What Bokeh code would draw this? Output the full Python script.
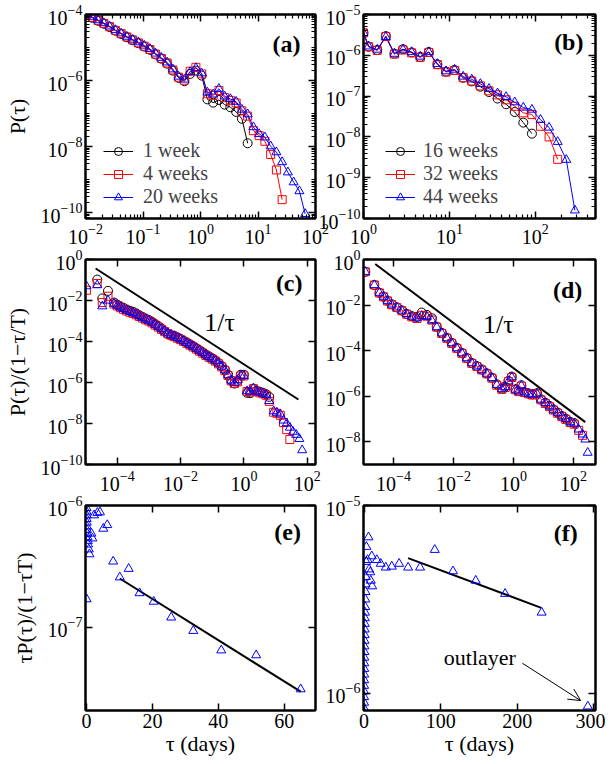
import numpy as np
from bokeh.plotting import figure
from bokeh.models import (Range1d, FixedTicker, LogAxis, LinearAxis, Label, Legend,
                          LegendItem, Arrow, OpenHead, GridBox, CustomJSTickFormatter)
from bokeh.embed import file_html
from bokeh.resources import INLINE

SERIF = "Liberation Serif"
BLUE = "#0000ff"
RED = "#ff0000"
BLACK = "#000000"

# ---------------- data (log10 values) ----------------
# panel (a): P(tau), tau in days
a_log_tau = [-1.98, -1.88, -1.78, -1.68, -1.58, -1.48, -1.38, -1.28, -1.18, -1.08,
             -0.98, -0.88, -0.78, -0.68, -0.58, -0.48, -0.38, -0.28, -0.18, -0.08,
             0.02, 0.12, 0.22, 0.32, 0.42, 0.52, 0.62, 0.72, 0.82, 0.92,
             1.02, 1.12, 1.22, 1.32, 1.42, 1.52, 1.62, 1.72, 1.82]
a_log_p_1w = [-4.00, -4.10, -4.19, -4.28, -4.38, -4.49, -4.59, -4.69, -4.78, -4.87,
              -4.97, -5.07, -5.21, -5.34, -5.49, -5.70, -5.92, -6.02, -5.80, -5.70,
              -5.85, -6.57, -6.67, -6.59, -6.73, -6.81, -6.95, -7.16, -7.90]
a_log_p_4w = [-4.00, -4.09, -4.18, -4.27, -4.37, -4.48, -4.58, -4.68, -4.77, -4.86,
              -4.96, -5.06, -5.20, -5.33, -5.47, -5.68, -5.90, -5.99, -5.72, -5.60,
              -5.80, -6.40, -6.45, -6.30, -6.52, -6.60, -6.68, -6.92, -7.08, -7.52,
              -7.67, -7.84, -8.24, -8.71, -9.61]
a_log_p_20w = [-4.00, -4.08, -4.17, -4.26, -4.36, -4.47, -4.57, -4.67, -4.76, -4.84,
               -4.94, -5.04, -5.18, -5.31, -5.45, -5.66, -5.88, -5.97, -5.74, -5.62,
               -5.78, -6.36, -6.42, -6.25, -6.48, -6.56, -6.64, -6.88, -7.02, -7.41,
               -7.62, -7.72, -7.99, -8.17, -8.47, -8.78, -9.08, -9.35, -10.04]
a_labels = ["1 week", "4 weeks", "20 weeks"]

# panel (b)
b_log_tau = [0.00, 0.06, 0.16, 0.26, 0.36, 0.46, 0.56, 0.66, 0.76, 0.86,
             0.96, 1.06, 1.16, 1.26, 1.36, 1.46, 1.56, 1.66, 1.76, 1.86,
             1.96, 2.06, 2.16, 2.26, 2.36, 2.46]
b_log_p_16w = [-5.45, -5.79, -5.87, -5.53, -5.96, -5.85, -5.93, -6.04, -5.92, -6.22,
               -6.40, -6.36, -6.55, -6.64, -6.77, -6.90, -7.06, -7.20, -7.39, -7.65,
               -7.92]
b_log_p_32w = [-5.45, -5.79, -5.88, -5.54, -5.97, -5.87, -5.94, -6.05, -5.93, -6.23,
               -6.41, -6.37, -6.55, -6.63, -6.75, -6.87, -6.97, -7.09, -7.25, -7.41,
               -7.45, -7.74, -8.00, -8.55]
b_log_p_44w = [-5.45, -5.78, -5.86, -5.55, -5.96, -5.86, -5.92, -6.03, -5.92, -6.21,
               -6.39, -6.35, -6.52, -6.59, -6.70, -6.82, -6.93, -7.02, -7.15, -7.28,
               -7.33, -7.58, -7.77, -8.12, -8.56, -9.80]
b_labels = ["16 weeks", "32 weeks", "44 weeks"]

# panel (c): P(tau)/(1-tau/T)
c_log_tau = [-4.97, -4.63, -4.47, -4.29,
             -4.10, -4.00, -3.90, -3.80, -3.70, -3.60, -3.50, -3.40, -3.30, -3.20,
             -3.10, -3.00, -2.90, -2.80, -2.70, -2.60, -2.50, -2.40, -2.30, -2.20,
             -2.10, -2.00, -1.90, -1.80, -1.70, -1.60, -1.50, -1.40, -1.30, -1.20,
             -1.10, -1.00, -0.90, -0.80, -0.70, -0.60, -0.50, -0.40, -0.30, -0.20,
             -0.10, 0.00, 0.10, 0.20, 0.30, 0.40, 0.50, 0.60, 0.70, 0.80,
             0.94, 1.04, 1.15, 1.25, 1.35, 1.45, 1.55, 1.65, 1.75, 1.84]
c_log_y_1w = [-0.98, -1.90, -1.53,
              -2.10, -2.20, -2.28, -2.36, -2.44, -2.50, -2.55, -2.63, -2.72, -2.80,
              -2.88, -2.95, -3.04, -3.15, -3.25, -3.37, -3.50, -3.64, -3.70, -3.72,
              -3.80, -3.87, -3.96, -4.05, -4.14, -4.23, -4.33, -4.43, -4.53, -4.64,
              -4.73, -4.82, -4.92, -5.05, -5.20, -5.38, -5.62, -5.90, -6.05, -5.92,
              -5.62, -5.62, -6.50, -6.52, -6.32, -6.40, -6.45, -6.50, -6.57, -6.70]
c_log_y_4w = [-1.50, -1.17, -2.10, -1.79,
              -2.17, -2.27, -2.35, -2.43, -2.51, -2.57, -2.63, -2.70, -2.78, -2.86,
              -2.94, -3.00, -3.09, -3.20, -3.30, -3.41, -3.52, -3.62, -3.69, -3.76,
              -3.84, -3.91, -4.00, -4.09, -4.18, -4.27, -4.37, -4.47, -4.57, -4.68,
              -4.77, -4.86, -4.96, -5.09, -5.24, -5.42, -5.66, -5.92, -6.05, -5.97,
              -5.68, -5.68, -6.44, -6.47, -6.30, -6.44, -6.50, -6.55, -6.62, -6.92,
              -7.45, -7.50, -7.60, -7.95, -8.30, -8.78]
c_log_y_20w = [-1.30, -1.25, -2.28, -2.00,
               -2.15, -2.25, -2.33, -2.41, -2.49, -2.55, -2.61, -2.68, -2.76, -2.84,
               -2.92, -2.98, -3.07, -3.18, -3.28, -3.39, -3.50, -3.60, -3.67, -3.74,
               -3.82, -3.89, -3.98, -4.07, -4.16, -4.25, -4.35, -4.45, -4.55, -4.66,
               -4.75, -4.84, -4.94, -5.07, -5.22, -5.40, -5.64, -5.90, -6.03, -5.88,
               -5.66, -5.68, -6.42, -6.45, -6.28, -6.42, -6.48, -6.53, -6.60, -6.90,
               -7.40, -7.47, -7.55, -7.85, -8.00, -8.20, -8.40, -8.55, -8.75, -9.30]
c_fit_log_tau = [-4.68, 1.72]
c_fit_log_y = [-0.44, -6.83]

# panel (d)
d_log_tau = [-4.94, -4.64, -4.47, -4.33, -4.20, -4.06, -3.89, -3.72, -3.56, -3.39,
             -3.22, -3.06, -2.89, -2.72, -2.56, -2.39, -2.22, -2.06, -1.89, -1.72,
             -1.56, -1.39, -1.22, -1.06, -0.89, -0.72, -0.56, -0.39, -0.28, -0.17,
             -0.06, 0.06, 0.17, 0.26, 0.36, 0.50, 0.63, 0.78, 0.91, 1.06,
             1.20, 1.33, 1.47, 1.61, 1.74, 1.89, 2.02, 2.17, 2.30, 2.39, 2.47]
d_log_y_16w = [-0.54, -1.12, -1.46, -1.63, -1.81, -1.97, -2.10, -2.24, -2.39, -2.49,
               -2.52, -2.33, -2.43, -2.58, -2.95, -3.22, -3.44, -3.66, -3.88, -4.10,
               -4.32, -4.54, -4.68, -4.83, -5.00, -5.19, -5.48, -5.67, -5.58, -5.33,
               -5.14, -5.70, -5.78, -5.52, -5.82, -5.88, -5.92, -5.87, -6.14, -6.29,
               -6.43, -6.58, -6.72, -6.87, -6.99, -7.13, -7.18]
d_log_y_32w = [-0.54, -1.12, -1.47, -1.64, -1.82, -1.98, -2.11, -2.25, -2.40, -2.52,
               -2.59, -2.45, -2.49, -2.66, -2.97, -3.25, -3.46, -3.68, -3.90, -4.12,
               -4.34, -4.56, -4.70, -4.85, -5.02, -5.21, -5.52, -5.70, -5.62, -5.36,
               -5.18, -5.72, -5.80, -5.56, -5.84, -5.90, -5.95, -5.91, -6.16, -6.32,
               -6.46, -6.61, -6.75, -6.90, -7.02, -7.16, -7.23, -7.50, -7.72]
d_log_y_44w = [-0.54, -1.12, -1.46, -1.63, -1.81, -1.97, -2.10, -2.24, -2.39, -2.51,
               -2.58, -2.48, -2.51, -2.68, -2.97, -3.24, -3.45, -3.67, -3.89, -4.11,
               -4.33, -4.55, -4.69, -4.84, -5.01, -5.20, -5.50, -5.69, -5.60, -5.35,
               -5.17, -5.71, -5.79, -5.54, -5.83, -5.89, -5.93, -5.89, -6.15, -6.30,
               -6.44, -6.59, -6.73, -6.88, -7.00, -7.14, -7.20, -7.46, -7.68, -7.90,
               -8.48]
d_fit_log_tau = [-4.61, 2.39]
d_fit_log_y = [-0.20, -7.14]

# panel (e): tau P(tau)/(1 - tau T), linear tau in days
e_tau = [0.01, 0.02, 0.04, 0.06, 0.08, 0.1, 0.15, 0.2, 0.3, 0.4, 0.5, 0.7, 0.9,
         0.05, 1.5, 1.8, 2.3, 3.3, 4.1, 5.1, 6.3, 8.1, 10.1, 12.8, 16.1, 20.4,
         25.7, 32.4, 40.9, 51.5, 65.0]
e_log_y = [-6.02, -6.05, -6.08, -6.11, -6.14, -6.17, -6.20, -6.23, -6.26, -6.29,
           -6.32, -6.36, -6.40, -6.77, -6.23, -6.27, -6.08, -6.06, -6.055, -6.19,
           -6.16, -6.46, -6.59, -6.52, -6.72, -6.79, -6.92, -7.03, -7.19, -7.23, -7.51]
e_fit_tau = [10.1, 65.0]
e_fit_log_y = [-6.60, -7.53]

# panel (f)
f_tau = [0.01, 0.02, 0.03, 0.05, 0.07, 0.1, 0.14, 0.2, 0.25, 0.3, 0.4, 0.5, 0.6,
         0.7, 0.8, 0.9, 1.0, 1.2, 1.4, 1.6, 1.8, 2.0, 2.3, 2.6, 3.0,
         5.7, 4.5, 6.5, 8.7, 10.0, 8.0, 10.5, 16.5, 21.7, 28.3,
         36.1, 45.7, 57.4, 73.0, 92.2, 116.0, 145.7, 184.0, 231.7, 292.0]
f_log_y = [-6.08, -6.05, -6.02, -5.99, -5.96, -5.93, -5.90, -5.87, -5.84, -5.81,
           -5.78, -5.75, -5.72, -5.69, -5.66, -5.63, -5.60, -5.57, -5.54, -5.50,
           -5.46, -5.42, -5.38, -5.30, -5.22,
           -5.169, -5.29, -5.34, -5.40, -5.27, -5.355, -5.43, -5.29, -5.31, -5.33,
           -5.325, -5.31, -5.33, -5.33, -5.236, -5.35, -5.40, -5.47, -5.57, -6.07]
f_fit_tau = [57.4, 231.3]
f_fit_log_y = [-5.28, -5.545]


def pw(exps):
    return [10.0 ** v for v in exps]


def log_minor(kmin, kmax, majors):
    out = []
    for k in range(kmin, kmax + 1):
        for m in range(1, 10):
            v = m * 10.0 ** k
            if not any(abs(v - t) <= 1e-9 * t for t in majors):
                out.append(v)
    return out


def make_panel(w, h, borders, xr, yr, xlog, ylog, xt, yt, xminor=None, yminor=None,
               xlabel=None, ylabel=None, xstand=12):
    left, right, top, bottom = borders
    p = figure(width=w, height=h,
               x_axis_type="log" if xlog else "linear",
               y_axis_type="log" if ylog else "linear",
               x_range=Range1d(*xr), y_range=Range1d(*yr),
               output_backend="svg", toolbar_location=None,
               min_border_left=left, min_border_right=right,
               min_border_top=top, min_border_bottom=bottom)
    p.xgrid.visible = False
    p.ygrid.visible = False
    p.background_fill_color = None
    p.border_fill_color = None
    p.outline_line_color = "black"
    p.outline_line_width = 2
    XA = LogAxis if xlog else LinearAxis
    YA = LogAxis if ylog else LinearAxis
    p.add_layout(XA(), "above")
    p.add_layout(YA(), "right")
    xtick = FixedTicker(ticks=xt, minor_ticks=xminor or [])
    ytick = FixedTicker(ticks=yt, minor_ticks=yminor or [])
    for ax in p.xaxis:
        ax.ticker = xtick
    for ax in p.yaxis:
        ax.ticker = ytick
    for ax in p.axis:
        ax.axis_line_width = 2
        ax.major_tick_in = 7
        ax.major_tick_out = 0
        ax.minor_tick_in = 4
        ax.minor_tick_out = 0
        ax.major_tick_line_width = 1.5
        ax.minor_tick_line_width = 1.2
        ax.major_label_text_font = SERIF
        ax.major_label_text_font_size = "20px"
        ax.major_label_text_color = "black"
        ax.axis_label_text_font = SERIF
        ax.axis_label_text_font_size = "22px"
        ax.axis_label_text_font_style = "normal"
        ax.axis_label_text_color = "black"
    for ax in list(p.above) + list(p.right):
        ax.formatter = CustomJSTickFormatter(code="return ''")
        ax.major_label_text_color = None
        ax.major_label_standoff = 0
    p.below[0].major_label_standoff = xstand
    p.left[0].major_label_standoff = 3
    if xlabel:
        p.below[0].axis_label = xlabel
        p.below[0].axis_label_standoff = 0
    if ylabel:
        p.left[0].axis_label = ylabel
        p.left[0].axis_label_standoff = 8
    return p


def tag(p, text, x, y, size="24px", bold=True, align="right"):
    p.add_layout(Label(x=x, y=y, text=text, text_font=SERIF, text_font_size=size,
                       text_font_style="bold" if bold else "normal",
                       text_align=align, text_baseline="middle", text_color="black"))


def add_legend(p, items, loc, standoff):
    lg = Legend(items=items, location=loc, border_line_color=None,
                background_fill_alpha=0, padding=0, margin=0, spacing=0,
                glyph_width=30, glyph_height=20, label_height=20,
                label_standoff=standoff, label_text_font=SERIF,
                label_text_font_size="20px")
    p.add_layout(lg)


# ---------------- panel (a) ----------------
ax_major = [1e-2, 1e-1, 1e0, 1e1, 1e2]
ay_major = [1e-10, 1e-8, 1e-6, 1e-4]
pa = make_panel(340, 256, (85, 25, 14, 38), (1e-2, 1e2), (10 ** -10.18, 1e-4),
                True, True, ax_major, ay_major,
                log_minor(-2, 1, ax_major), log_minor(-11, -5, ay_major),
                ylabel="P(τ)", xstand=5)
series_a = [(a_log_p_1w, BLACK, "circle", 9), (a_log_p_4w, RED, "square", 8),
            (a_log_p_20w, BLUE, "triangle", 9)]
items = []
for (ys, col, mk, sz), lab in zip(series_a, a_labels):
    xs = pw(a_log_tau[:len(ys)])
    l = pa.line(xs, pw(ys), line_color=col, line_width=1)
    s = pa.scatter(xs, pw(ys), marker=mk, size=sz, fill_color=None,
                   line_color=col, line_width=1)
    items.append(LegendItem(label=lab, renderers=[l, s]))
add_legend(pa, items, (18, 10), 10)
tag(pa, "(a)", 55, 1.318e-5)

# ---------------- panel (b) ----------------
bx_major = [1e0, 1e1, 1e2]
by_major = [1e-10, 1e-9, 1e-8, 1e-7, 1e-6, 1e-5]
pb = make_panel(295, 256, (53, 10, 14, 38), (1, 10 ** 2.70), (1e-10, 1e-5),
                True, True, bx_major, by_major,
                log_minor(0, 2, bx_major), log_minor(-10, -6, by_major), xstand=5)
series_b = [(b_log_p_16w, BLACK, "circle", 9), (b_log_p_32w, RED, "square", 8),
            (b_log_p_44w, BLUE, "triangle", 9)]
items = []
for (ys, col, mk, sz), lab in zip(series_b, b_labels):
    xs = pw(b_log_tau[:len(ys)])
    l = pb.line(xs, pw(ys), line_color=col, line_width=1)
    s = pb.scatter(xs, pw(ys), marker=mk, size=sz, fill_color=None,
                   line_color=col, line_width=1)
    items.append(LegendItem(label=lab, renderers=[l, s]))
add_legend(pb, items, (22, 10), 8)
tag(pb, "(b)", 363, 2.07e-6)

# ---------------- panel (c) ----------------
cx_major = [1e-4, 1e-2, 1e0, 1e2]
cy_major = [1e-10, 1e-8, 1e-6, 1e-4, 1e-2, 1e0]
pc = make_panel(340, 260, (85, 25, 15, 40), (1e-5, 10 ** 2.26), (1e-10, 1),
                True, True, cx_major, cy_major, ylabel="P(τ)/(1−τ/T)", xstand=6)
pc.line(pw(c_fit_log_tau), pw(c_fit_log_y), line_color="black", line_width=2)
pc.scatter(pw(c_log_tau[1:1 + len(c_log_y_1w)]), pw(c_log_y_1w), marker="circle",
           size=9, fill_color=None, line_color=BLACK, line_width=1)
pc.scatter(pw(c_log_tau[:len(c_log_y_4w)]), pw(c_log_y_4w), marker="square",
           size=8, fill_color=None, line_color=RED, line_width=1)
pc.scatter(pw(c_log_tau[:len(c_log_y_20w)]), pw(c_log_y_20w), marker="triangle",
           size=9, fill_color=None, line_color=BLUE, line_width=1)
tag(pc, "(c)", 70.8, 0.069)
tag(pc, "1/τ", 0.17, 8.7e-4, size="26px", bold=False, align="center")

# ---------------- panel (d) ----------------
dx_major = [1e-4, 1e-2, 1e0, 1e2]
dy_major = [1e-8, 1e-6, 1e-4, 1e-2, 1e0]
pd_ = make_panel(295, 260, (53, 10, 15, 40), (1e-5, 10 ** 2.73), (1e-9, 1),
                 True, True, dx_major, dy_major, xstand=6)
pd_.line(pw(d_fit_log_tau), pw(d_fit_log_y), line_color="black", line_width=2)
pd_.scatter(pw(d_log_tau[:len(d_log_y_16w)]), pw(d_log_y_16w), marker="circle",
            size=9, fill_color=None, line_color=BLACK, line_width=1)
pd_.scatter(pw(d_log_tau[:len(d_log_y_32w)]), pw(d_log_y_32w), marker="square",
            size=8, fill_color=None, line_color=RED, line_width=1)
pd_.scatter(pw(d_log_tau[:len(d_log_y_44w)]), pw(d_log_y_44w), marker="triangle",
            size=9, fill_color=None, line_color=BLUE, line_width=1)
tag(pd_, "(d)", 195, 0.0457)
tag(pd_, "1/τ", 0.31, 1.35e-3, size="26px", bold=False, align="center")

# ---------------- panel (e) ----------------
pe = make_panel(340, 272, (85, 25, 15, 52), (-0.3, 69.5), (10 ** -7.685, 1e-6),
                False, True, [0, 20, 40, 60], [1e-7, 1e-6],
                xlabel="τ (days)", ylabel="τP(τ)/(1−τT)", xstand=3)
pe.line(e_fit_tau, pw(e_fit_log_y), line_color="black", line_width=2)
pe.scatter(e_tau, pw(e_log_y), marker="triangle", size=9, fill_color=None,
           line_color=BLUE, line_width=1)
tag(pe, "(e)", 65.1, 6.03e-7)

# ---------------- panel (f) ----------------
pf = make_panel(295, 272, (53, 10, 15, 52), (-0.8, 302), (10 ** -6.092, 1e-5),
                False, True, [0, 100, 200, 300], [1e-6, 1e-5],
                xlabel="τ (days)", xstand=3)
pf.line(f_fit_tau, pw(f_fit_log_y), line_color="black", line_width=2)
pf.scatter(f_tau, pw(f_log_y), marker="triangle", size=9, fill_color=None,
           line_color=BLUE, line_width=1)
tag(pf, "(f)", 278.7, 7.18e-6)
tag(pf, "outlayer", 151, 1.55e-6, size="22px", bold=False, align="center")
pf.add_layout(Arrow(end=OpenHead(size=12, line_width=1, line_color="black"),
                    x_start=206.5, y_start=1.445e-6, x_end=282.6, y_end=9.14e-7,
                    line_width=1, line_color="black"))

grid = GridBox(children=[(pa, 0, 0, 2, 2), (pb, 0, 1, 2, 2),
                         (pc, 1, 0, 3, 2), (pd_, 1, 1, 3, 2),
                         (pe, 3, 0, 2, 2), (pf, 3, 1, 2, 2)],
               cols=["310px", "30px", "265px"],
               rows=["244px", "12px", "234px", "14px", "258px"], spacing=0)

open("out.html", "w").write(file_html(grid, INLINE))
